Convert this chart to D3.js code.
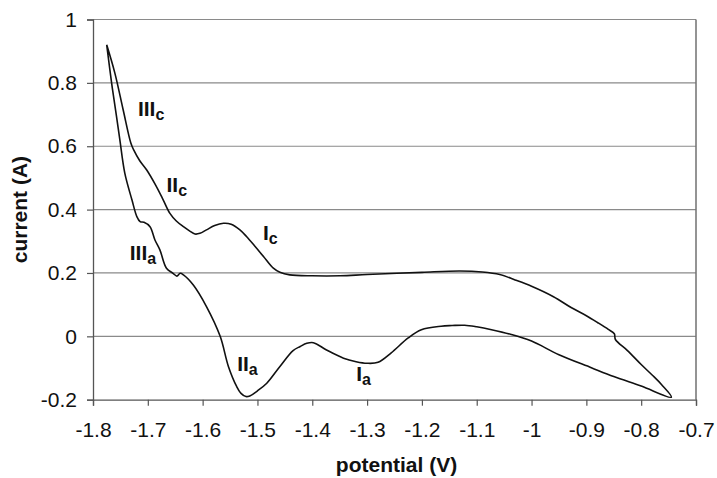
<!DOCTYPE html>
<html>
<head>
<meta charset="utf-8">
<script src="https://cdn.jsdelivr.net/npm/d3@7"></script>
<style>
  body { margin: 0; background: #fff; }
  text { font-family: "Liberation Sans", Arial, sans-serif; }
</style>
</head>
<body>
<div id="cv-chart"></div>
<script>
// cyclic voltammogram, one loop in scan order
var potential = [
  -1.775, -1.760, -1.745, -1.731, -1.726, -1.715, -1.702, -1.686, -1.672, -1.660,
  -1.648, -1.635, -1.624, -1.614, -1.605, -1.593, -1.578, -1.562, -1.548, -1.532,
  -1.520, -1.505, -1.489, -1.471, -1.459, -1.441, -1.400, -1.349, -1.300, -1.200,
  -1.131, -1.090, -1.058, -1.030, -1.000, -0.960, -0.927, -0.900, -0.879, -0.860,
  -0.849, -0.847, -0.825, -0.800, -0.780, -0.763, -0.745,
  -0.800, -0.850, -0.891, -0.950, -1.000, -1.037, -1.073, -1.100, -1.122, -1.145,
  -1.165, -1.201, -1.225, -1.256, -1.280, -1.300, -1.320, -1.343, -1.374, -1.398,
  -1.410, -1.422, -1.435, -1.459, -1.483, -1.500, -1.514, -1.521, -1.530, -1.538,
  -1.553, -1.568, -1.593, -1.617, -1.635, -1.641, -1.647, -1.654, -1.666, -1.678,
  -1.687, -1.696, -1.707, -1.714, -1.720, -1.729, -1.742, -1.751, -1.757, -1.766,
  -1.775
];
var current = [
  0.920, 0.830, 0.715, 0.610, 0.589, 0.555, 0.525, 0.478, 0.431, 0.389,
  0.364, 0.346, 0.333, 0.323, 0.325, 0.336, 0.350, 0.357, 0.354, 0.336,
  0.315, 0.285, 0.252, 0.215, 0.202, 0.194, 0.191, 0.191, 0.195, 0.202,
  0.206, 0.203, 0.195, 0.178, 0.158, 0.125, 0.090, 0.065, 0.043, 0.022,
  0.008, -0.010, -0.045, -0.089, -0.122, -0.152, -0.192,
  -0.157, -0.127, -0.099, -0.058, -0.015, 0.006, 0.021, 0.030, 0.035, 0.034,
  0.032, 0.021, -0.005, -0.052, -0.082, -0.085, -0.080, -0.069, -0.043, -0.020,
  -0.022, -0.032, -0.045, -0.095, -0.148, -0.172, -0.188, -0.190, -0.180, -0.158,
  -0.095, 0.000, 0.094, 0.162, 0.194, 0.199, 0.190, 0.199, 0.215, 0.273,
  0.304, 0.346, 0.360, 0.362, 0.378, 0.431, 0.515, 0.620, 0.693, 0.799,
  0.920
];

var xTicks = [-1.8, -1.7, -1.6, -1.5, -1.4, -1.3, -1.2, -1.1, -1, -0.9, -0.8, -0.7];
var yTicks = [-0.2, 0, 0.2, 0.4, 0.6, 0.8, 1];

// peak labels: name, subscript, potential, current (where the label sits)
var peakNames = ["III", "II", "I", "III", "II", "I"];
var peakSubs = ["c", "c", "c", "a", "a", "a"];
var peakV = [-1.718, -1.666, -1.490, -1.733, -1.537, -1.320];
var peakA = [0.697, 0.457, 0.303, 0.240, -0.110, -0.142];

var width = 717, height = 478;
var marge = {top: 19.5, right: 21, bottom: 78.3, left: 93};

var svg = d3.select("#cv-chart")
  .append("svg")
  .attr("width", width)
  .attr("height", height);

var x = d3.scaleLinear().domain([-1.8, -0.7]).range([marge.left, width - marge.right]);
var y = d3.scaleLinear().domain([-0.2, 1]).range([height - marge.bottom, marge.top]);

// horizontal gridlines
svg.append("g")
  .selectAll("line")
  .data(yTicks.filter(function(d) { return d > -0.2; }))
  .enter()
  .append("line")
  .attr("x1", x(-1.8))
  .attr("x2", x(-0.7))
  .attr("y1", function(d) { return y(d); })
  .attr("y2", function(d) { return y(d); })
  .attr("stroke", "#8a8a8a")
  .attr("stroke-width", 1.2);

// right border
svg.append("line")
  .attr("x1", x(-0.7)).attr("x2", x(-0.7))
  .attr("y1", y(1)).attr("y2", y(-0.2))
  .attr("stroke", "#707070")
  .attr("stroke-width", 1.5);

var xAxis = d3.axisBottom(x)
  .tickValues(xTicks)
  .tickSize(6)
  .tickPadding(16)
  .tickFormat(function(d) { return String(+d.toFixed(1)); });

var yAxis = d3.axisLeft(y)
  .tickValues(yTicks)
  .tickSize(6)
  .tickPadding(10)
  .tickFormat(function(d) { return String(+d.toFixed(1)); });

var gx = svg.append("g")
  .attr("transform", "translate(0," + y(-0.2) + ")")
  .call(xAxis);
var gy = svg.append("g")
  .attr("transform", "translate(" + x(-1.8) + ",0)")
  .call(yAxis);

[gx, gy].forEach(function(g) {
  g.select(".domain").attr("stroke", "#555").attr("stroke-width", 1.3);
  g.selectAll(".tick line").attr("stroke", "#555").attr("stroke-width", 1.2);
  g.selectAll(".tick text")
    .attr("fill", "#111")
    .style("font-family", "'Liberation Sans', Arial, sans-serif")
    .style("font-size", "21px");
});

// the curve
var pts = potential.map(function(v, i) { return [v, current[i]]; });
var line = d3.line()
  .x(function(d) { return x(d[0]); })
  .y(function(d) { return y(d[1]); })
  .curve(d3.curveCatmullRom.alpha(0.5));

svg.append("path")
  .datum(pts)
  .attr("d", line)
  .attr("fill", "none")
  .attr("stroke", "#111")
  .attr("stroke-width", 1.6)
  .attr("stroke-linejoin", "round");

// peak labels
var labels = svg.append("g")
  .selectAll("text")
  .data(peakNames)
  .enter()
  .append("text")
  .attr("x", function(d, i) { return x(peakV[i]); })
  .attr("y", function(d, i) { return y(peakA[i]); })
  .style("font-size", "21px")
  .style("font-weight", "bold")
  .attr("fill", "#111");
labels.append("tspan").text(function(d) { return d; });
labels.append("tspan")
  .attr("dy", 4)
  .style("font-size", "16px")
  .text(function(d, i) { return peakSubs[i]; });

// axis titles
svg.append("text")
  .attr("x", (x(-1.8) + x(-0.7)) / 2 + 2)
  .attr("y", 472)
  .attr("text-anchor", "middle")
  .style("font-size", "21px")
  .style("font-weight", "bold")
  .attr("fill", "#111")
  .text("potential (V)");

svg.append("text")
  .attr("transform", "translate(27," + (y(0.4)) + ") rotate(-90)")
  .attr("text-anchor", "middle")
  .style("font-size", "21px")
  .style("font-weight", "bold")
  .attr("fill", "#111")
  .text("current (A)");
</script>
</body>
</html>
